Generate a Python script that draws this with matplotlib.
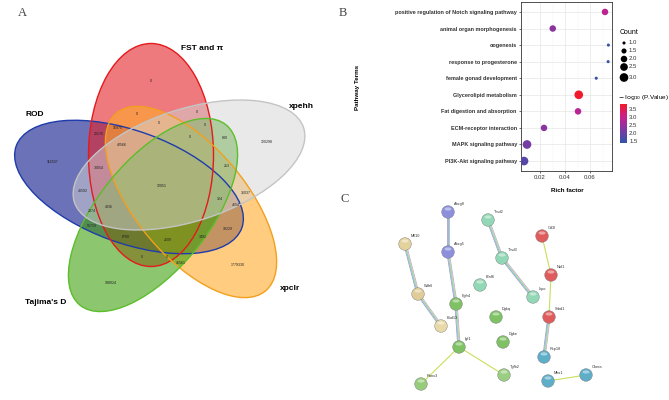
import numpy as np
import matplotlib
matplotlib.use("Agg")
from matplotlib import pyplot as plt
from matplotlib.patches import Ellipse, Circle
from matplotlib.colors import LinearSegmentedColormap, Normalize
from matplotlib.cm import ScalarMappable

plt.rcParams['font.family'] = ['Liberation Sans', 'DejaVu Sans']

# ---- panel A: five-set venn ----
set_names = ["FST and π", "ROD", "xpehh", "xpclr", "Tajima's D"]
set_label_xy = [(202, 48), (35, 115), (301, 107), (290, 289), (46, 302)]
region_counts = ["0", "0", "0", "0", "0", "0", "16970", "29176", "42566", "839",
                 "120298", "116507", "30054", "213", "12051", "40592", "36037",
                 "324", "4654", "4336", "2974", "55719", "18229", "6700", "3492",
                 "2609", "0", "0", "46561", "1779330", "188924"]
region_xy = [(151, 81), (137, 114), (197, 112), (159, 123), (205, 125), (190, 137),
             (118, 128), (99, 134), (122, 145), (225, 138), (267, 142), (53, 162),
             (99, 168), (227, 166), (162, 186), (83, 191), (246, 193), (220, 199),
             (236, 205), (109, 207), (92, 211), (92, 226), (228, 229), (126, 237),
             (203, 237), (168, 240), (142, 257), (167, 257), (181, 263), (238, 265),
             (111, 283)]

# ---- panel B: enrichment dot plot ----
terms = ["positive regulation of Notch signaling pathway", "animal organ morphogenesis",
         "oogenesis", "response to progesterone", "female gonad development",
         "Glycerolipid metabolism", "Fat digestion and absorption",
         "ECM-receptor interaction", "MAPK signaling pathway", "PI3K-Akt signaling pathway"]
rich_factor = [0.072, 0.0302, 0.0747, 0.0745, 0.065, 0.051, 0.0504, 0.0232, 0.0096, 0.0072]
gene_count = [2, 2, 1, 1, 1, 3, 2, 2, 3, 3]
neg_log_p = [2.85, 2.35, 1.45, 1.45, 1.5, 3.75, 2.8, 2.3, 2.1, 1.8]
legend_counts = [1.0, 1.5, 2.0, 2.5, 3.0]
cbar_ticks = [1.5, 2.0, 2.5, 3.0, 3.5]

# ---- panel C: interaction network ----
node_names = ["Abcg8", "Abcg5", "Mll10", "Wdr6", "Bud13", "Fgfr4", "Igf1", "Runx3",
              "Tgfb2", "Tmd2", "Tmd3", "Lipo", "Elaf6", "Dgkq", "Dgke",
              "Cd3l", "Nof1", "Srbd1", "Rcp18", "Mbs1", "Chera"]
node_x = [448, 448, 405, 418, 441, 456, 459, 421, 504, 488, 502, 533, 480, 496, 503,
          542, 551, 549, 544, 548, 586]
node_y = [212, 252, 244, 294, 326, 304, 347, 384, 375, 220, 258, 297, 285, 317, 342,
          236, 275, 317, 357, 381, 375]
node_colors = ["#8C90DC", "#8C90DC", "#E4D29C", "#E0CC98", "#E8DAA8", "#7EC264",
               "#7EC264", "#96CC7C", "#9ACE80", "#92D8B6", "#92D8B6", "#92D8B6",
               "#92D8B6", "#7EC264", "#7EC264", "#E05C5C", "#E05C5C", "#E05C5C",
               "#5EAECA", "#5EAECA", "#5EAECA"]
edges_multi = [("Abcg8", "Abcg5"), ("Abcg5", "Fgfr4"), ("Fgfr4", "Igf1"),
               ("Mll10", "Wdr6"), ("Wdr6", "Bud13"), ("Tmd2", "Tmd3"),
               ("Tmd3", "Lipo"), ("Srbd1", "Rcp18")]
edges_single = [("Igf1", "Runx3"), ("Igf1", "Tgfb2"), ("Cd3l", "Nof1"),
                ("Nof1", "Srbd1"), ("Mbs1", "Chera")]

fig = plt.figure(figsize=(6.69, 4.0), dpi=100)
ax0 = fig.add_axes([0, 0, 1, 1])
ax0.set_xlim(0, 669)
ax0.set_ylim(400, 0)
ax0.axis('off')

# venn ellipses: center, width, height, angle, face, edge, alpha (grey drawn last)
venn_shapes = [
    ((129, 187), 240, 112, 20, '#0A1488', '#1E3CAA', 0.6),
    ((151, 155), 125, 223, 0, '#E32128', '#E41A1C', 0.6),
    ((191, 202), 232, 110, 50, '#FFAA2B', '#F2A01E', 0.6),
    ((153, 215), 232, 110, -51, '#3FA00D', '#5BBE2A', 0.6),
    ((189, 165), 241, 112, -18, '#D4D4D4', '#C4C4C4', 0.5),
]
for c, w, h, a, fc, ec, al in venn_shapes:
    ax0.add_patch(Ellipse(c, w, h, angle=a, facecolor=fc, alpha=al, edgecolor='none'))
for c, w, h, a, fc, ec, al in venn_shapes:
    ax0.add_patch(Ellipse(c, w, h, angle=a, facecolor='none', edgecolor=ec, lw=1.0))
for (x, y), t in zip(region_xy, region_counts):
    ax0.text(x, y, t, fontsize=2.6, ha='center', va='center', color='#222222')
for (x, y), t in zip(set_label_xy, set_names):
    ax0.text(x, y, t, fontsize=6, fontweight='bold', ha='center', va='center')

for lab, x, y in [("A", 22, 13), ("B", 343, 13), ("C", 345, 199)]:
    ax0.text(x, y, lab, fontsize=9, family='Liberation Serif', color='#444444',
             ha='center', va='center')

# network
pos = {n: (x, y) for n, x, y in zip(node_names, node_x, node_y)}
multi_cols = ['#C8A4DC', '#B4DC6C', '#78C8D4', '#A0A0C8']
for a, b in edges_multi:
    (x1, y1), (x2, y2) = pos[a], pos[b]
    d = np.hypot(x2 - x1, y2 - y1)
    nx, ny = -(y2 - y1) / d, (x2 - x1) / d
    for k, col in enumerate(multi_cols):
        o = (k - 1.5) * 0.8
        ax0.plot([x1 + nx * o, x2 + nx * o], [y1 + ny * o, y2 + ny * o],
                 color=col, lw=0.6, solid_capstyle='butt', zorder=2)
for a, b in edges_single:
    (x1, y1), (x2, y2) = pos[a], pos[b]
    ax0.plot([x1, x2], [y1, y2], color='#C8E05A', lw=0.8, zorder=2)
for n, x, y, col in zip(node_names, node_x, node_y, node_colors):
    ax0.add_patch(Circle((x, y), 6.3, facecolor=col, edgecolor='#777777', lw=0.3, zorder=3))
    ax0.add_patch(Ellipse((x, y - 3), 7, 3.2, facecolor='white', alpha=0.45,
                          edgecolor='none', zorder=4))
    ax0.text(x + 6, y - 6, n, fontsize=2.8, color='#333333', ha='left', va='bottom', zorder=5)

# ---- panel B ----
axB = fig.add_axes([521 / 669, 1 - 171 / 400, 91 / 669, 169 / 400])
ypos = np.arange(len(terms))
cmap = LinearSegmentedColormap.from_list('bp', ['#2F55A8', '#7C3AA2', '#C8208E', '#F21A28'])
norm = Normalize(1.38, 3.78)
size_of = lambda c: 5 + (np.asarray(c) - 1) * 17
axB.scatter(rich_factor, ypos, s=size_of(gene_count), c=neg_log_p, cmap=cmap, norm=norm,
            linewidths=0, zorder=3)
axB.set_xlim(0.0048, 0.0776)
axB.set_ylim(9.6, -0.6)
axB.set_yticks(ypos)
axB.set_yticklabels(terms, fontsize=4, fontweight='bold', color='#222222')
axB.set_xticks([0.02, 0.04, 0.06])
axB.set_xticklabels(['0.02', '0.04', '0.06'], fontsize=4.3, color='#444444')
axB.set_xticks([0.01, 0.03, 0.05, 0.07], minor=True)
axB.grid(True, which='major', color='#E6E6E6', lw=0.5)
axB.grid(True, which='minor', axis='x', color='#F2F2F2', lw=0.3)
axB.set_axisbelow(True)
axB.tick_params(length=1.5, width=0.5, pad=1.5, colors='#333333')
axB.tick_params(which='minor', length=0)
for s in axB.spines.values():
    s.set_color('#333333')
    s.set_linewidth(0.6)
ax0.text(567, 190, 'Rich factor', fontsize=4.5, fontweight='bold', ha='center', va='center')
ax0.text(357, 87, 'Pathway Terms', fontsize=4.5, fontweight='bold', rotation=90,
         ha='center', va='center')

# count legend
ax0.text(620, 33, 'Count', fontsize=5, ha='left', va='center')
leg_y = [43, 51, 59, 67, 77.5]
ax0.scatter([624] * 5, leg_y, s=size_of(legend_counts), color='black', linewidths=0)
for yy, v in zip(leg_y, legend_counts):
    ax0.text(629, yy, f'{v:.1f}', fontsize=4.3, ha='left', va='center', color='#333333')

# colour bar
ax0.text(618, 97, r'$-\,\log_{10}$(P.Value)', fontsize=4.6, ha='left', va='center')
cax = fig.add_axes([620 / 669, 1 - 143 / 400, 7 / 669, 39 / 400])
cb = fig.colorbar(ScalarMappable(norm=norm, cmap=cmap), cax=cax, ticks=cbar_ticks)
cb.outline.set_visible(False)
cax.tick_params(length=0, pad=1.5, labelsize=4.3, colors='#333333')

fig.savefig('out.png', dpi=100)
